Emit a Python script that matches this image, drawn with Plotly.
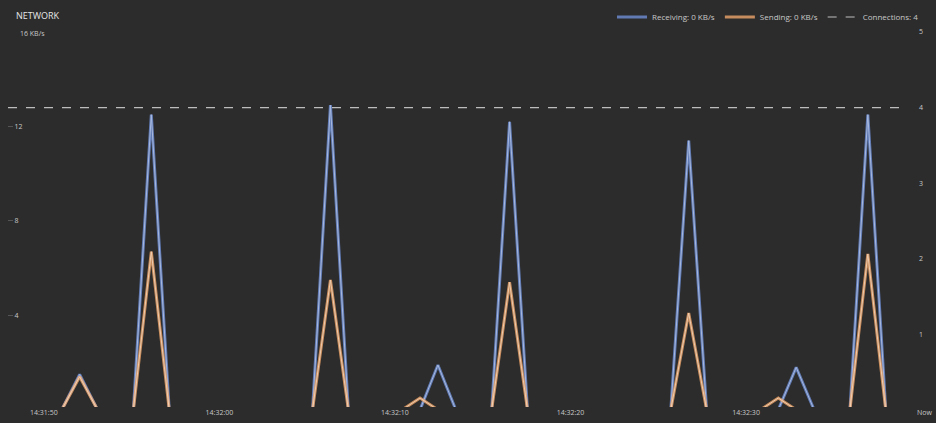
import plotly.graph_objects as go

# sample index (about one sample per second)
samples = list(range(-4, 47))
# spike values (KB/s), zero elsewhere
recv_peaks = {0: 1.5, 4: 12.5, 14: 12.9, 20: 1.9, 24: 12.2, 34: 11.4, 40: 1.8, 44: 12.5}
send_peaks = {0: 1.4, 4: 6.7, 14: 5.5, 19: 0.5, 24: 5.4, 34: 4.1, 39: 0.5, 44: 6.6}
receiving = [recv_peaks.get(i, 0.0) for i in samples]
sending = [send_peaks.get(i, 0.0) for i in samples]
connections = [4 for _ in samples]

tick_pos = [-2, 7.8, 17.6, 27.4, 37.2]
tick_text = ["14:31:50", "14:32:00", "14:32:10", "14:32:20", "14:32:30"]
left_ticks = [4, 8, 12]
right_ticks = [1, 2, 3, 4, 5]

BG = "#2c2c2c"
BLUE = "#6f8fd6"
BLUE_CORE = "#c5d3f1"
ORANGE = "#eea56a"
ORANGE_CORE = "#f7dcc3"
TXT = "#c8c8c8"
FONT = "Open Sans"

fig = go.Figure()
fig.add_trace(go.Scatter(x=samples, y=receiving, mode="lines", name="Receiving: 0 KB/s",
                         line=dict(color=BLUE, width=3), opacity=0.8))
fig.add_trace(go.Scatter(x=samples, y=receiving, mode="lines", showlegend=False,
                         line=dict(color=BLUE_CORE, width=1), opacity=0.7, hoverinfo="skip"))
fig.add_trace(go.Scatter(x=samples, y=sending, mode="lines", name="Sending: 0 KB/s",
                         line=dict(color=ORANGE, width=3), opacity=0.8))
fig.add_trace(go.Scatter(x=samples, y=sending, mode="lines", showlegend=False,
                         line=dict(color=ORANGE_CORE, width=1), opacity=0.8, hoverinfo="skip"))
fig.add_trace(go.Scatter(x=samples, y=connections, yaxis="y2", mode="lines",
                         name="Connections: 4",
                         line=dict(color="#bdbdbd", width=1.2, dash="dash")))

pw, ph = 936 - 8 - 18, 423 - 32 - 16

fig.update_layout(
    width=936, height=423,
    paper_bgcolor=BG, plot_bgcolor=BG,
    margin=dict(l=8, r=18, t=32, b=16, autoexpand=False),
    font=dict(family=FONT, size=8, color=TXT),
    showlegend=True,
    legend=dict(orientation="h", x=(612 - 8) / pw, xanchor="left", y=1 + (32 - 17) / ph,
                yanchor="middle", bgcolor="rgba(0,0,0,0)", font=dict(size=8, color=TXT),
                traceorder="normal", itemwidth=30),
    xaxis=dict(range=[-4, 46.8], tickvals=tick_pos, ticktext=tick_text,
               showgrid=False, zeroline=False, showline=False,
               ticks="", ticklen=0, tickfont=dict(size=7, color=TXT)),
    yaxis=dict(range=[0.12, 16], tickvals=left_ticks, ticktext=[str(v) for v in left_ticks],
               ticklabelposition="inside", ticks="inside", ticklen=5, tickcolor="#555",
               showgrid=False, zeroline=False, showline=False,
               tickfont=dict(size=7, color=TXT)),
    yaxis2=dict(range=[0.0375, 5], overlaying="y", side="right",
                tickvals=right_ticks, ticktext=[str(v) for v in right_ticks],
                showgrid=False, zeroline=False, showline=False, ticks="",
                tickfont=dict(size=7, color=TXT)),
    annotations=[
        dict(text="NETWORK", x=(14 - 8) / pw, y=1 + (32 - 15) / ph, xref="paper", yref="paper",
             showarrow=False, xanchor="left", yanchor="middle",
             font=dict(size=9, color="#e6e6e6")),
        dict(text="16 KB/s", x=(18 - 8) / pw, y=1 - (33 - 32) / ph, xref="paper", yref="paper",
             showarrow=False, xanchor="left", yanchor="middle",
             font=dict(size=7, color=TXT)),
        dict(text="Now", x=1 + 16 / pw, y=-(412 - 407) / ph, xref="paper", yref="paper",
             showarrow=False, xanchor="right", yanchor="middle",
             font=dict(size=7, color=TXT)),
    ],
)

fig.write_html(
    "out.html",
    config={"displayModeBar": False},
    post_script="document.body.style.margin='0';document.body.style.background='#2c2c2c';",
)
